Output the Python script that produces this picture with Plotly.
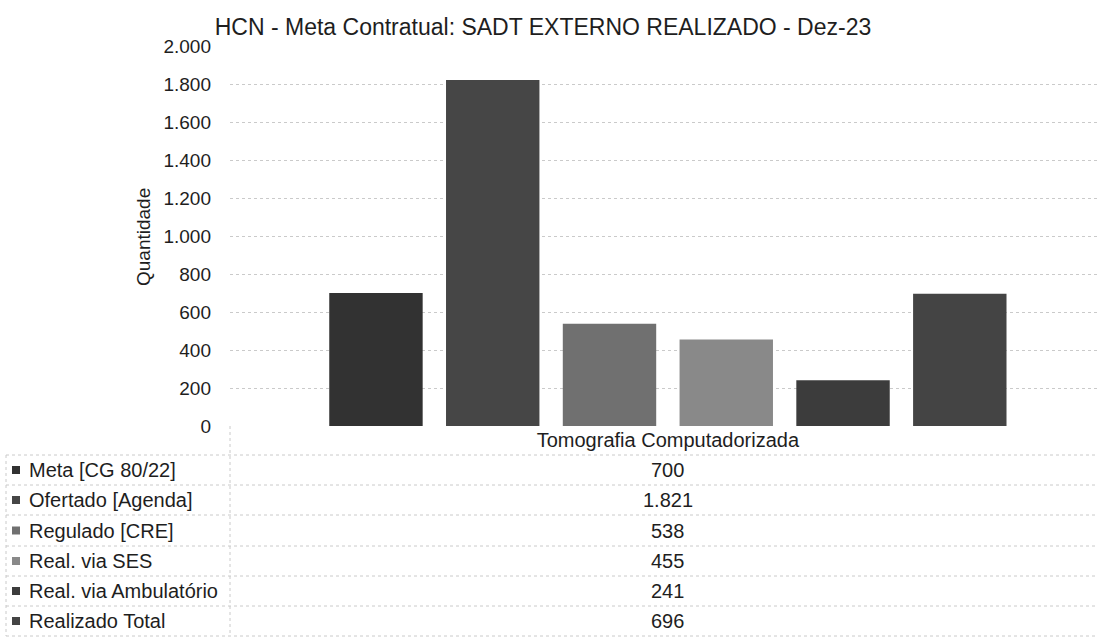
import plotly.graph_objects as go

# Data
category = "Tomografia Computadorizada"
series_names = ["Meta [CG 80/22]", "Ofertado [Agenda]", "Regulado [CRE]",
                "Real. via SES", "Real. via Ambulatório", "Realizado Total"]
series_values = [700, 1821, 538, 455, 241, 696]
series_colors = ["#323232", "#464646", "#707070", "#898989", "#3c3c3c", "#444444"]

y_ticks = [0, 200, 400, 600, 800, 1000, 1200, 1400, 1600, 1800, 2000]
y_tick_labels = ["0", "200", "400", "600", "800", "1.000", "1.200", "1.400",
                 "1.600", "1.800", "2.000"]

title_text = "HCN - Meta Contratual: SADT EXTERNO REALIZADO - Dez-23"
y_title = "Quantidade"

FONT = "Liberation Sans, Arial, sans-serif"
INK = "#1e1e1e"
LINE = "#cacaca"

# figure geometry (pixels)
W, H = 1097, 641
L, R, T, B = 230, 0, 46, 215


def fx(px):
    return (px - L) / (W - L - R)


def fy(py):
    return (H - B - py) / (H - T - B)


fig = go.Figure()

for name, val, col in zip(series_names, series_values, series_colors):
    fig.add_trace(go.Bar(
        x=[category], y=[val], name=name,
        marker=dict(color=col, line=dict(width=0)),
        showlegend=False,
    ))

# data table under the chart
row_lines = [455, 485, 515, 546, 576, 606, 636]
shapes = []
for yl in row_lines:
    shapes.append(dict(type="line", xref="paper", yref="paper",
                       x0=fx(6), x1=fx(W), y0=fy(yl), y1=fy(yl),
                       line=dict(color=LINE, width=1, dash="dot")))
shapes.append(dict(type="line", xref="paper", yref="paper",
                   x0=fx(230), x1=fx(230), y0=fy(426), y1=fy(row_lines[-1]),
                   line=dict(color=LINE, width=1, dash="dot")))
shapes.append(dict(type="line", xref="paper", yref="paper",
                   x0=fx(6), x1=fx(6), y0=fy(row_lines[0]), y1=fy(row_lines[-1]),
                   line=dict(color=LINE, width=1, dash="dot")))

annotations = []
for i, (name, val, col) in enumerate(zip(series_names, series_values, series_colors)):
    yc = (row_lines[i] + row_lines[i + 1]) / 2
    shapes.append(dict(type="rect", xref="paper", yref="paper",
                       x0=fx(12), x1=fx(20), y0=fy(yc - 4), y1=fy(yc + 4),
                       fillcolor=col, line=dict(width=0)))
    annotations.append(dict(text=name, xref="paper", yref="paper",
                            x=fx(27), y=fy(yc), xanchor="left", yanchor="middle",
                            showarrow=False, font=dict(size=20, color=INK, family=FONT)))
    annotations.append(dict(text=f"{val:,}".replace(",", "."), xref="x", yref="paper",
                            x=category, y=fy(yc), xanchor="center", yanchor="middle",
                            showarrow=False, font=dict(size=20, color=INK, family=FONT)))

annotations.append(dict(text=y_title, xref="paper", yref="paper",
                        x=fx(143), y=fy(237), textangle=-90,
                        xanchor="center", yanchor="middle", showarrow=False,
                        font=dict(size=19, color=INK, family=FONT)))

fig.update_layout(
    width=W, height=H,
    margin=dict(l=L, r=R, t=T, b=B),
    paper_bgcolor="white", plot_bgcolor="white",
    barmode="group", bargap=0.2, bargroupgap=0.2,
    title=dict(text=title_text, x=543 / W, xanchor="center",
               y=1 - 27 / H, yanchor="middle", yref="container",
               font=dict(size=23, color=INK, family=FONT)),
    font=dict(family=FONT, color=INK),
    shapes=shapes,
    annotations=annotations,
)

fig.update_xaxes(
    type="category", range=[-0.5, 0.49],
    showgrid=False, showline=False, zeroline=False, ticks="",
    tickfont=dict(size=20, color=INK, family=FONT),
    ticklabelstandoff=0,
)

fig.update_yaxes(
    range=[0, 2000], tickvals=y_ticks, ticktext=y_tick_labels,
    showgrid=True, gridcolor=LINE, gridwidth=1, griddash="dot",
    zeroline=False, showline=False, ticks="",
    tickfont=dict(size=19, color=INK, family=FONT),
    ticklabelstandoff=18,
)

fig.write_html("out.html", config={"displayModeBar": False},
               post_script="document.body.style.margin='0';document.body.style.overflow='hidden';")
